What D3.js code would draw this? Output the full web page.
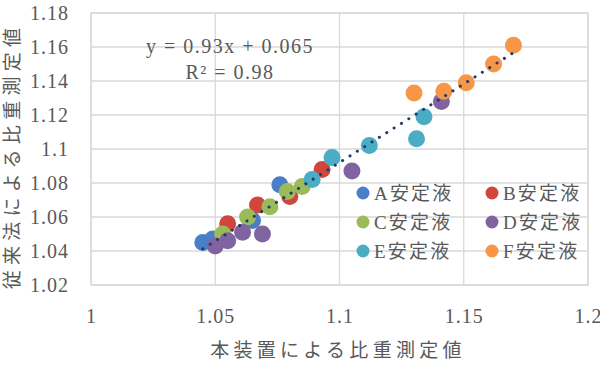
<!DOCTYPE html>
<html><head><meta charset="utf-8">
<script src="https://cdn.jsdelivr.net/npm/d3@7"></script>
<style>
html,body{margin:0;padding:0;background:#fff;}
svg{display:block;}
text{font-family:"Liberation Serif","Times New Roman","Noto Sans CJK JP",serif;fill:#595959;}
</style></head>
<body><svg id="c" width="600" height="369"></svg>
<script>
const seriesNames = ["A安定液","B安定液","C安定液","D安定液","E安定液","F安定液"];
const seriesColors = ["#4A7EC7","#D0463C","#9BBB59","#8064A2","#4BACC6","#F79646"];
const seriesA = [[1.045,1.045],[1.049,1.047],[1.065,1.058],[1.076,1.079]];
const seriesB = [[1.055,1.056],[1.067,1.067],[1.080,1.072],[1.093,1.088]];
const seriesC = [[1.053,1.050],[1.063,1.060],[1.072,1.066],[1.079,1.075],[1.085,1.078]];
const seriesD = [[1.050,1.043],[1.055,1.046],[1.061,1.051],[1.069,1.050],[1.105,1.087],[1.141,1.128]];
const seriesE = [[1.089,1.082],[1.097,1.095],[1.112,1.102],[1.131,1.106],[1.134,1.119]];
const seriesF = [[1.130,1.133],[1.142,1.134],[1.151,1.139],[1.162,1.150],[1.170,1.161]];
const xTicks = [1,1.05,1.1,1.15,1.2];
const yTicks = [1.02,1.04,1.06,1.08,1.1,1.12,1.14,1.16,1.18];
const xTitle = "本装置による比重測定値";
const yTitle = "従来法による比重測定値";
const eqText = "y = 0.93x + 0.065";
const r2Text = "R² = 0.98";

const allSeries = [seriesA,seriesB,seriesC,seriesD,seriesE,seriesF];
const svg = d3.select("#c");
const L=91,R=588,T=13,B=285;
const x = d3.scaleLinear().domain([1,1.2]).range([L,R]);
const y = d3.scaleLinear().domain([1.02,1.18]).range([B,T]);

// grid
const g = svg.append("g");
g.selectAll(".hg").data(yTicks).join("line")
 .attr("x1",L).attr("x2",R).attr("y1",d=>y(d)).attr("y2",d=>y(d))
 .attr("stroke","#D9D9D9").attr("stroke-width",1.3);
g.selectAll(".vg").data(xTicks).join("line")
 .attr("y1",T).attr("y2",B).attr("x1",d=>x(d)).attr("x2",d=>x(d))
 .attr("stroke","#D9D9D9").attr("stroke-width",1.3);

// axes labels
const xAxis = d3.axisBottom(x).tickValues(xTicks).tickFormat(d=>String(+d.toFixed(2))).tickSize(0).tickPadding(0);
const xa = svg.append("g").attr("transform",`translate(0,${B})`).call(xAxis);
xa.select(".domain").remove();
xa.selectAll("text").attr("y",38).attr("dy",0).attr("font-size",20).attr("letter-spacing",1).style("font-family",'"Liberation Serif",serif').attr("fill","#595959");
const yAxis = d3.axisLeft(y).tickValues(yTicks).tickFormat(d=>String(+d.toFixed(2))).tickSize(0).tickPadding(0);
const ya = svg.append("g").attr("transform",`translate(69,0)`).call(yAxis);
ya.select(".domain").remove();
ya.selectAll("text").attr("x",0).attr("dy","0.34em").attr("font-size",20).attr("letter-spacing",1).style("font-family",'"Liberation Serif",serif').attr("fill","#595959");

// series points
allSeries.forEach((s,i)=>{
  svg.append("g").selectAll("circle").data(s).join("circle")
   .attr("cx",d=>x(d[0])).attr("cy",d=>y(d[1])).attr("r",8.5)
   .attr("fill",seriesColors[i]);
});

// trendline (least squares over all points)
const pts = allSeries.flat();
const mx = d3.mean(pts,d=>d[0]), my = d3.mean(pts,d=>d[1]);
const slope = d3.sum(pts,d=>(d[0]-mx)*(d[1]-my))/d3.sum(pts,d=>(d[0]-mx)**2);
const icpt = my - slope*mx;
const xmin = d3.min(pts,d=>d[0]), xmax = d3.max(pts,d=>d[0]);
svg.append("line")
 .attr("x1",x(xmin)).attr("y1",y(slope*xmin+icpt))
 .attr("x2",x(xmax)).attr("y2",y(slope*xmax+icpt))
 .attr("stroke","#1F3A6E").attr("stroke-width",3).attr("stroke-linecap","round")
 .attr("stroke-dasharray","0.1 8.6");

// plot border
svg.append("rect").attr("x",L).attr("y",T).attr("width",R-L).attr("height",B-T)
 .attr("fill","none").attr("stroke","#D9D9D9").attr("stroke-width",1.3);

// equation
svg.append("text").attr("x",230).attr("y",53).attr("text-anchor","middle")
 .attr("font-size",20).attr("letter-spacing",1.5).attr("fill","#404040").text(eqText);
svg.append("text").attr("x",230).attr("y",79).attr("text-anchor","middle")
 .attr("font-size",20).attr("letter-spacing",1.5).attr("fill","#404040").text(r2Text);

// titles
svg.append("text").attr("x",338).attr("y",357).attr("text-anchor","middle")
 .attr("font-size",19).attr("letter-spacing",4.3).text(xTitle);
svg.append("text").attr("transform","translate(19,156) rotate(-90)").attr("text-anchor","middle")
 .attr("font-size",19).attr("letter-spacing",5.3).text(yTitle);

// legend
const lg = svg.append("g");
seriesNames.forEach((nm,i)=>{
  const col = i%2, row = Math.floor(i/2);
  const lx = 363 + col*129, ly = 193 + row*29;
  lg.append("circle").attr("cx",lx).attr("cy",ly).attr("r",6.5).attr("fill",seriesColors[i]);
  lg.append("text").attr("x",lx+11).attr("y",ly).attr("dy","0.36em")
   .attr("font-size",19).attr("letter-spacing",2.2).text(nm);
});
</script></body></html>
